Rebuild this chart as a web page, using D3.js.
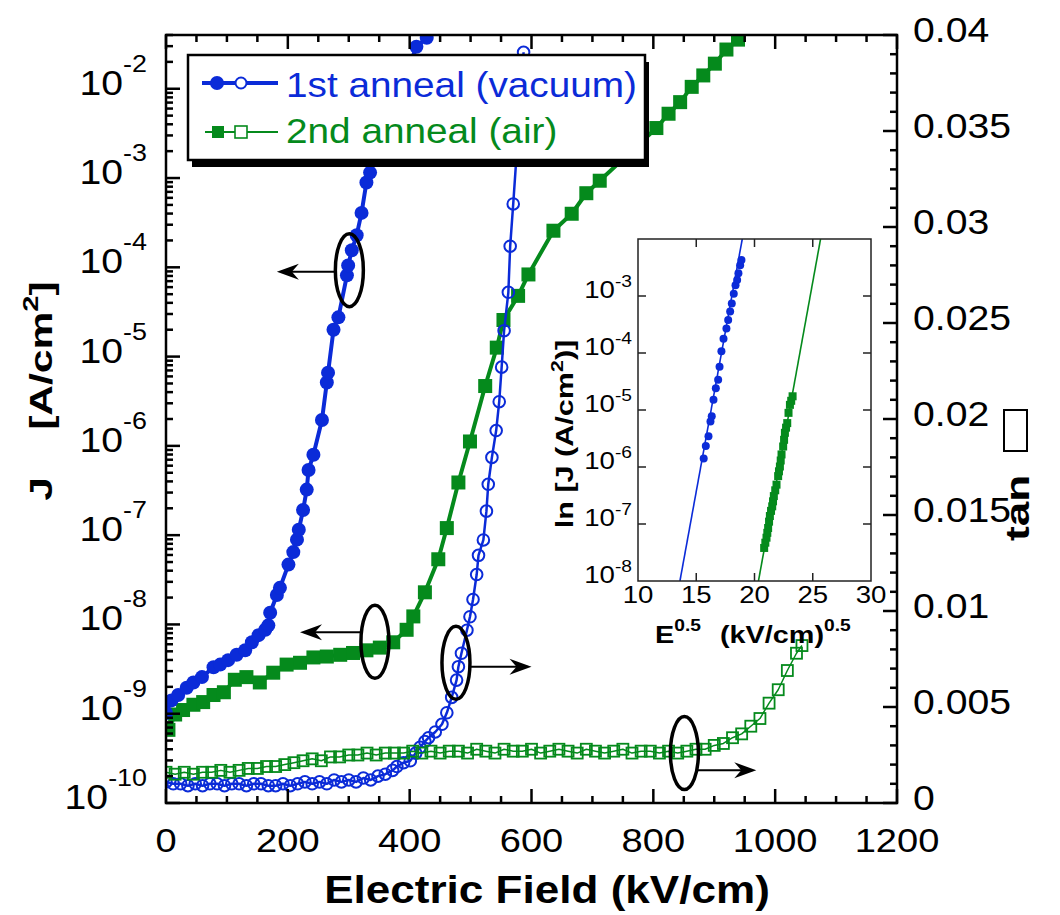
<!DOCTYPE html>
<html lang="en">
<head>
<meta charset="UTF-8">
<script src="https://cdn.jsdelivr.net/npm/d3@7/dist/d3.min.js"></script>
<title>J-E and tan delta</title>
<style>
  body { margin: 0; background: #fff; }
  text { font-family: "Liberation Sans", Arial, Helvetica, sans-serif; }
</style>
</head>
<body>
<div id="chart"></div>
<script>
// ---------- data ----------
// 1st anneal (vacuum): leakage current density J (A/cm2), filled circles
const vacJ_E = [0, 9, 20, 34, 45, 59, 78, 89, 102, 116, 130, 141, 152, 163, 168, 171, 182, 187,
  201, 209, 215, 218, 225, 231, 234, 242, 256, 264, 266, 275, 283, 297, 299, 305, 313, 321, 329, 335, 411, 428];
const vacJ = [1.02e-9, 1.41e-9, 1.62e-9, 1.95e-9, 2.24e-9, 2.57e-9, 3.31e-9, 3.55e-9, 3.98e-9, 4.57e-9,
  5.13e-9, 6.31e-9, 7.59e-9, 8.71e-9, 9.77e-9, 1.35e-8, 2.14e-8, 2.57e-8, 4.68e-8, 6.46e-8, 8.91e-8,
  1.15e-7, 1.91e-7, 3.24e-7, 5.37e-7, 7.94e-7, 1.95e-6, 5.13e-6, 6.61e-6, 2.0e-5, 2.75e-5, 8.13e-5,
  1.05e-4, 1.55e-4, 2.29e-4, 4.07e-4, 8.91e-4, 1.15e-3, 2.95e-2, 3.72e-2];

// 2nd anneal (air): J, filled squares
const airJ_E = [4, 15, 28, 45, 61, 78, 95, 113, 132, 154, 176, 198, 220, 242, 264, 286, 307, 329, 351, 373,
  395, 406, 425, 447, 461, 480, 499, 524, 543, 554, 578, 595, 636, 666, 690, 712, 805, 825, 844, 863, 882, 901, 920, 939];
const airJ = [6.6e-10, 9.8e-10, 1.10e-9, 1.26e-9, 1.35e-9, 1.62e-9, 1.74e-9, 2.40e-9, 2.57e-9, 2.24e-9,
  2.88e-9, 3.55e-9, 3.72e-9, 4.27e-9, 4.37e-9, 4.57e-9, 4.79e-9, 5.13e-9, 5.50e-9, 6.31e-9,
  8.71e-9, 1.23e-8, 2.29e-8, 5.37e-8, 1.20e-7, 3.89e-7, 1.12e-6, 4.68e-6, 1.26e-5, 2.57e-5, 4.79e-5, 8.32e-5,
  2.57e-4, 3.98e-4, 6.76e-4, 9.33e-4, 3.63e-3, 5.25e-3, 7.08e-3, 1.05e-2, 1.41e-2, 1.91e-2, 2.75e-2, 3.55e-2];

// 1st anneal (vacuum): tan delta, open circles
const vacTan_E = [0, 12, 24, 36, 48, 60, 72, 84, 96, 108, 120, 132, 144, 156, 168, 180, 192, 204, 216, 228,
  240, 252, 264, 276, 288, 300, 312, 324, 336, 348, 360, 372, 379, 390, 401, 410, 417, 425, 431, 442, 453,
  461, 469, 477, 480, 485, 494, 499, 504, 510, 513, 521, 526, 529, 535, 542, 547, 551, 555, 562, 565, 570, 587];
const vacTan = [0.0011, 0.0010, 0.0010, 0.0009, 0.0010, 0.0009, 0.0010, 0.0010, 0.0009, 0.0010, 0.0010,
  0.0009, 0.0010, 0.0010, 0.0009, 0.0009, 0.0010, 0.0009, 0.0010, 0.0011, 0.0010, 0.0011, 0.0010, 0.0012,
  0.0011, 0.0012, 0.0011, 0.0013, 0.0012, 0.0014, 0.0015, 0.0017, 0.0019, 0.0021, 0.0022, 0.0026, 0.0029,
  0.0032, 0.0034, 0.0037, 0.0041, 0.0047, 0.0055, 0.0064, 0.0071, 0.0078, 0.0090, 0.0097, 0.0106, 0.0119,
  0.0129, 0.0137, 0.0152, 0.0166, 0.0180, 0.0194, 0.0209, 0.0227, 0.0246, 0.0266, 0.0290, 0.0312, 0.0391];

// 2nd anneal (air): tan delta, open squares
const airTan_E = [0, 15, 30, 45, 60, 75, 90, 105, 120, 135, 150, 165, 180, 195, 210, 225, 240, 255, 270, 285,
  300, 315, 330, 345, 360, 375, 390, 405, 420, 435, 450, 465, 480, 495, 510, 525, 540, 555, 570, 585, 600,
  615, 630, 645, 660, 675, 690, 705, 720, 735, 750, 765, 780, 795, 810, 825, 840, 855, 870, 885, 900, 915,
  930, 945, 960, 975, 990, 1005, 1020, 1035, 1044];
const airTan = [0.0016, 0.0015, 0.0016, 0.0015, 0.0016, 0.0016, 0.0017, 0.0016, 0.0017, 0.0018, 0.0018,
  0.0019, 0.0019, 0.0020, 0.0021, 0.0022, 0.0023, 0.0022, 0.0024, 0.0024, 0.0025, 0.0025, 0.0026, 0.0025,
  0.0026, 0.0026, 0.0026, 0.0027, 0.0026, 0.0027, 0.0026, 0.0027, 0.0027, 0.0026, 0.0028, 0.0027, 0.0026,
  0.0028, 0.0027, 0.0027, 0.0028, 0.0026, 0.0027, 0.0028, 0.0027, 0.0026, 0.0028, 0.0027, 0.0026, 0.0027,
  0.0028, 0.0026, 0.0027, 0.0027, 0.0026, 0.0027, 0.0026, 0.0027, 0.0028, 0.0028, 0.0030, 0.0031, 0.0034,
  0.0036, 0.0040, 0.0044, 0.0052, 0.0059, 0.0069, 0.0078, 0.0082];

// inset: J vs E^0.5
const insVac_S = [15.64, 15.82, 16.05, 16.22, 16.33, 16.48, 16.68, 16.88, 17.0, 17.16, 17.34, 17.59, 17.74,
  17.91, 18.05, 18.22, 18.37, 18.51, 18.62, 18.77, 18.88];
const insVac_J = [1.41e-6, 2.34e-6, 3.47e-6, 6.31e-6, 7.76e-6, 1.51e-5, 2.40e-5, 3.39e-5, 5.75e-5, 1.07e-4,
  1.78e-4, 2.69e-4, 3.80e-4, 5.37e-4, 7.41e-4, 1.10e-3, 1.55e-3, 1.91e-3, 2.51e-3, 3.47e-3, 4.27e-3];
const insAir_S = [20.83, 20.93, 21.03, 21.10, 21.17, 21.25, 21.32, 21.42, 21.52, 21.59, 21.66, 21.78, 21.89,
  22.03, 22.10, 22.18, 22.25, 22.32, 22.46, 22.54, 22.61, 22.71, 22.81, 22.92, 23.04, 23.15, 23.27];
const insAir_J = [3.80e-8, 4.7e-8, 5.75e-8, 7.0e-8, 8.51e-8, 1.1e-7, 1.38e-7, 1.7e-7, 2.04e-7, 2.5e-7, 3.09e-7,
  3.9e-7, 4.90e-7, 6.92e-7, 8.4e-7, 1.02e-6, 1.3e-6, 1.66e-6, 2.29e-6, 3.0e-6, 3.98e-6, 4.9e-6, 5.89e-6,
  8.91e-6, 1.23e-5, 1.45e-5, 1.74e-5];
const insVacFit_S = [13.6, 18.95];
const insAirFit_S = [20.34, 25.67];
const insFit_J = [1e-8, 1e-2];

// annotation rings and arrows (data units)
const ringE = [301, 343, 476, 851];
const ringV = [9.3e-5, 6.4e-9, 0.0073, 0.0026];
const ringAxis = ["J", "J", "tan", "tan"];
const arrowToE = [182, 220, 600, 969];
const arrowV = [8.9e-5, 8.2e-9, 0.0071, 0.0017];

const legendNames = ["1st anneal (vacuum)", "2nd anneal (air)"];

// ---------- chart ----------
const width = 1060, height = 915;
const blue = "#0b2bd8", green = "#058a1c";

const svg = d3.select("#chart").append("svg")
  .attr("width", width).attr("height", height)
  .attr("viewBox", [0, 0, width, height]);

const x = d3.scaleLinear().domain([0, 1200]).range([166, 897]);
const yJ = d3.scaleLog().domain([1e-10, 0.04]).range([803, 35]);
const yT = d3.scaleLinear().domain([0, 0.04]).range([803, 35]);

// text helper: glyphs in the original are wider than Liberation Sans
function label(parent, px, py, o) {
  return parent.append("g")
    .attr("transform", `translate(${px},${py}) rotate(${o.rotate || 0}) scale(${o.stretch || 1.12},1)`)
    .append("text")
    .attr("text-anchor", o.anchor || "start")
    .attr("font-size", o.size)
    .attr("font-weight", o.weight || "normal")
    .attr("fill", o.fill || "#000")
    .style("white-space", "pre");
}

svg.append("defs").append("clipPath").attr("id", "plot")
  .append("rect").attr("x", 166).attr("y", 35).attr("width", 731).attr("height", 768);

const data = svg.append("g").attr("clip-path", "url(#plot)");

function series(E, V, yScale, color, lw, marker) {
  const pts = E.map((e, i) => [x(e), yScale(V[i])]);
  const g = data.append("g");
  g.append("path").attr("d", d3.line()(pts))
    .attr("fill", "none").attr("stroke", color).attr("stroke-width", lw).attr("stroke-linejoin", "round");
  marker(g.selectAll("m").data(pts).join("g").attr("transform", d => `translate(${d[0]},${d[1]})`), color);
}
const filledCircle = (s, c) => s.append("circle").attr("r", 7).attr("fill", c);
const openCircle = (s, c) => s.append("circle").attr("r", 5.8).attr("fill", "none").attr("stroke", c).attr("stroke-width", 2);
const filledSquare = (s, c) => s.append("rect").attr("x", -7).attr("y", -7).attr("width", 14).attr("height", 14).attr("fill", c);
const openSquare = (s, c) => s.append("rect").attr("x", -5.5).attr("y", -5.5).attr("width", 11).attr("height", 11)
  .attr("fill", "none").attr("stroke", c).attr("stroke-width", 1.8);

series(airJ_E, airJ, yJ, green, 4, filledSquare);
series(vacTan_E, vacTan, yT, blue, 2.5, openCircle);
series(airTan_E, airTan, yT, green, 1.5, openSquare);
series(vacJ_E, vacJ, yJ, blue, 4, filledCircle);

// ---------- axes ----------
const ax = svg.append("g").attr("stroke", "#000").attr("stroke-width", 2.5);
d3.range(0, 1201, 50).forEach(v => {
  const len = v % 200 === 0 ? 14 : 7;
  ax.append("line").attr("x1", x(v)).attr("x2", x(v)).attr("y1", 803).attr("y2", 803 - len);
  ax.append("line").attr("x1", x(v)).attr("x2", x(v)).attr("y1", 35).attr("y2", 35 + len);
});
for (let k = -10; k <= -2; k++) {
  for (let m = 1; m <= 9; m++) {
    const v = m * Math.pow(10, k);
    if (v > 0.04) continue;
    const len = m === 1 ? 14 : 7;
    ax.append("line").attr("x1", 166).attr("x2", 166 + len).attr("y1", yJ(v)).attr("y2", yJ(v));
  }
}
d3.range(0, 41).forEach(i => {
  const v = i / 1000, len = i % 5 === 0 ? 14 : 7;
  ax.append("line").attr("x1", 897).attr("x2", 897 - len).attr("y1", yT(v)).attr("y2", yT(v));
});
svg.append("rect").attr("x", 166).attr("y", 35).attr("width", 731).attr("height", 768)
  .attr("fill", "none").attr("stroke", "#000").attr("stroke-width", 2.5);

// tick labels
d3.range(0, 1201, 200).forEach(v => {
  label(svg, x(v), 852, { size: 34, anchor: "middle" }).text(v);
});
for (let k = -10; k <= -2; k++) {
  const t = label(svg, 147, yJ(Math.pow(10, k)) + 6, { size: 35, anchor: "end" });
  t.append("tspan").text("10");
  t.append("tspan").attr("dy", -23).attr("font-size", 24).text("-" + (-k));
}
d3.range(0, 0.0401, 0.005).forEach(v => {
  label(svg, 913, yT(v) + 7, { size: 35 }).text(String(+v.toFixed(3)));
});

// axis titles
label(svg, 547, 903, { size: 39, weight: "bold", anchor: "middle", stretch: 1.13 }).text("Electric Field (kV/cm)");
const lt = label(svg, 52, 391, { size: 32, weight: "bold", anchor: "middle", rotate: -90, stretch: 1.33 });
lt.append("tspan").text("J\u00a0\u00a0\u00a0 [A/cm");
lt.append("tspan").attr("dy", -14).attr("font-size", 22).text("2");
lt.append("tspan").attr("dy", 14).text("]");
label(svg, 1029, 541, { size: 34, weight: "bold", rotate: -90, stretch: 1.3 }).text("tan");
svg.append("rect").attr("x", 1004).attr("y", 410).attr("width", 23).attr("height", 41)
  .attr("fill", "none").attr("stroke", "#000").attr("stroke-width", 2);

// ---------- annotations ----------
const ann = svg.append("g");
ringE.forEach((e, i) => {
  const ys = ringAxis[i] === "J" ? yJ : yT;
  const cx = x(e), cy = ys(ringV[i]), ay = ys(arrowV[i]);
  const tx = x(arrowToE[i]), dir = tx < cx ? -1 : 1;
  ann.append("line").attr("x1", cx + dir * 13).attr("x2", tx - dir * 4).attr("y1", ay).attr("y2", ay)
    .attr("stroke", "#000").attr("stroke-width", 2);
  ann.append("path").attr("transform", `translate(${tx},${ay}) scale(${dir},1)`)
    .attr("d", "M0,0L-22,-8L-15,0L-22,8Z").attr("fill", "#000");
  ann.append("ellipse").attr("cx", cx).attr("cy", cy).attr("rx", 14).attr("ry", 36.5)
    .attr("fill", "none").attr("stroke", "#000").attr("stroke-width", 3.5);
});

// ---------- inset ----------
const ix = d3.scaleLinear().domain([10, 30]).range([638, 871]);
const iy = d3.scaleLog().domain([1e-8, 1e-2]).range([581, 239]);
const ins = svg.append("g");
ins.append("rect").attr("x", 638).attr("y", 239).attr("width", 233).attr("height", 342).attr("fill", "#fff");
ins.append("defs").append("clipPath").attr("id", "inset")
  .append("rect").attr("x", 638).attr("y", 239).attr("width", 233).attr("height", 342);
const insData = ins.append("g").attr("clip-path", "url(#inset)");
[[insVacFit_S, blue], [insAirFit_S, green]].forEach(([S, c]) => {
  insData.append("path").attr("d", d3.line()(S.map((s, i) => [ix(s), iy(insFit_J[i])])))
    .attr("stroke", c).attr("stroke-width", 1.6).attr("fill", "none");
});
insData.selectAll(".iv").data(insVac_S).join("circle")
  .attr("cx", d => ix(d)).attr("cy", (d, i) => iy(insVac_J[i])).attr("r", 4).attr("fill", blue);
insData.selectAll(".ia").data(insAir_S).join("rect")
  .attr("x", d => ix(d) - 4).attr("y", (d, i) => iy(insAir_J[i]) - 4).attr("width", 8).attr("height", 8).attr("fill", green);
const iax = ins.append("g").attr("stroke", "#222").attr("stroke-width", 1.5);
[15, 20, 25].forEach(v => {
  iax.append("line").attr("x1", ix(v)).attr("x2", ix(v)).attr("y1", 581).attr("y2", 573);
  iax.append("line").attr("x1", ix(v)).attr("x2", ix(v)).attr("y1", 239).attr("y2", 247);
});
d3.range(-7, -2).forEach(k => {
  const yy = iy(Math.pow(10, k));
  iax.append("line").attr("x1", 638).attr("x2", 646).attr("y1", yy).attr("y2", yy);
  iax.append("line").attr("x1", 871).attr("x2", 863).attr("y1", yy).attr("y2", yy);
});
ins.append("rect").attr("x", 638).attr("y", 239).attr("width", 233).attr("height", 342)
  .attr("fill", "none").attr("stroke", "#222").attr("stroke-width", 1.5);
[10, 15, 20, 25, 30].forEach(v => {
  label(ins, ix(v), 603, { size: 23, anchor: "middle", stretch: 1.2 }).text(v);
});
d3.range(-8, -2).forEach(k => {
  const t = label(ins, 632, iy(Math.pow(10, k)) + 2, { size: 23, anchor: "end", stretch: 1.2 });
  t.append("tspan").text("10");
  t.append("tspan").attr("dy", -11).attr("font-size", 16).text("-" + (-k));
});
const ex = label(ins, 655, 643, { size: 24, weight: "bold", stretch: 1.2 });
ex.append("tspan").text("E");
ex.append("tspan").attr("dy", -12).attr("font-size", 16).text("0.5");
const eu = label(ins, 720, 643, { size: 24, weight: "bold", stretch: 1.2 });
eu.append("tspan").text("(kV/cm)");
eu.append("tspan").attr("dy", -12).attr("font-size", 16).text("0.5");
const iyl = label(ins, 573, 434, { size: 23, weight: "bold", anchor: "middle", rotate: -90, stretch: 1.33 });
iyl.append("tspan").text("ln [J (A/cm");
iyl.append("tspan").attr("dy", -10).attr("font-size", 16).text("2");
iyl.append("tspan").attr("dy", 10).text(")]");

// ---------- legend ----------
const lg = svg.append("g");
lg.append("rect").attr("x", 192).attr("y", 62).attr("width", 457).attr("height", 105).attr("fill", "#000");
lg.append("rect").attr("x", 188).attr("y", 55).attr("width", 457).attr("height", 105)
  .attr("fill", "#fff").attr("stroke", "#000").attr("stroke-width", 2.5);
lg.append("line").attr("x1", 202).attr("x2", 278).attr("y1", 83).attr("y2", 83).attr("stroke", blue).attr("stroke-width", 4);
filledCircle(lg.append("g").attr("transform", "translate(217,83)"), blue);
lg.append("circle").attr("cx", 241).attr("cy", 83).attr("r", 5.5).attr("fill", "#fff").attr("stroke", blue).attr("stroke-width", 2);
lg.append("line").attr("x1", 205).attr("x2", 278).attr("y1", 132).attr("y2", 132).attr("stroke", green).attr("stroke-width", 2);
lg.append("rect").attr("x", 212).attr("y", 126).attr("width", 12).attr("height", 12).attr("fill", green);
lg.append("rect").attr("x", 235).attr("y", 126).attr("width", 12).attr("height", 12)
  .attr("fill", "#fff").attr("stroke", green).attr("stroke-width", 1.6);
label(lg, 286, 97, { size: 35, fill: blue, stretch: 1.107 }).text(legendNames[0]);
label(lg, 286, 143, { size: 35, fill: green, stretch: 1.107 }).text(legendNames[1]);
</script>
</body>
</html>
